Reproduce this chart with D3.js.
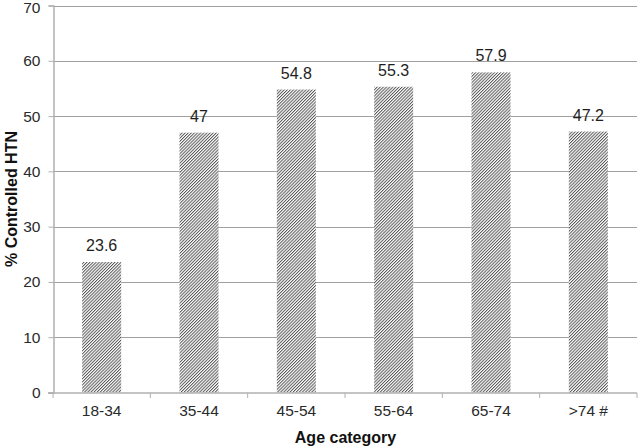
<!DOCTYPE html>
<html><head><meta charset="utf-8">
<script src="https://cdn.jsdelivr.net/npm/d3@7"></script>
<style>body{margin:0;background:#fff}svg{display:block}</style>
</head><body>
<svg id="c" width="640" height="448"></svg>
<script>
const categories = ["18-34","35-44","45-54","55-64","65-74",">74 #"];
const values = [23.6, 47, 54.8, 55.3, 57.9, 47.2];
const valueLabels = ["23.6","47","54.8","55.3","57.9","47.2"];
const yTicks = [0,10,20,30,40,50,60,70];

(function(){
const svg = d3.select("#c");
const mL = 53, mR = 637, mT = 5.5, mB = 392.5;
const x = d3.scaleBand().domain(categories).range([mL, mR]).paddingInner(0).paddingOuter(0);
const y = d3.scaleLinear().domain([0,70]).range([mB, mT]);
const font = "Liberation Sans, Arial, sans-serif";

const defs = svg.append("defs");
const pat = defs.append("pattern").attr("id","hatch").attr("patternUnits","userSpaceOnUse")
  .attr("width",2.2).attr("height",2.2).attr("patternTransform","rotate(45)");
pat.append("rect").attr("width",2.2).attr("height",2.2).attr("fill","#ffffff");
pat.append("line").attr("x1",0.5).attr("y1",0).attr("x2",0.5).attr("y2",2.2)
  .attr("stroke","#505050").attr("stroke-width",0.95);

// gridlines
svg.append("g").selectAll("line").data(yTicks.filter(d=>d>0)).join("line")
  .attr("x1",mL).attr("x2",mR)
  .attr("y1",d=>Math.round(y(d))+0.5).attr("y2",d=>Math.round(y(d))+0.5)
  .attr("stroke","#a0a0a0").attr("stroke-width",1);

// y axis
const ya = svg.append("g").attr("transform",`translate(${mL+0.5},0)`)
  .call(d3.axisLeft(y).tickValues(yTicks).tickSize(5).tickPadding(8).tickFormat(d3.format("d")));
ya.select(".domain").attr("stroke","#b0b0b0").attr("stroke-width",1.5);
ya.selectAll(".tick line").attr("stroke","#b0b0b0");
ya.selectAll(".tick text").attr("font-family",font).attr("font-size",15.5).attr("fill","#2a2a2a")
  .attr("dy",d=>d===70?"0.42em":"0.32em");

// bars
const bw = 39;
svg.append("g").selectAll("rect").data(values).join("rect")
  .attr("x",(d,i)=>x(categories[i])+x.bandwidth()/2-bw/2)
  .attr("width",bw)
  .attr("y",d=>y(d))
  .attr("height",d=>y(0)-y(d))
  .attr("fill","url(#hatch)");

// x axis
const xa = svg.append("g").attr("transform",`translate(0,${mB+0.5})`)
  .call(d3.axisBottom(x).tickSize(0).tickPadding(12));
xa.select(".domain").remove();
xa.append("line").attr("x1",mL-5).attr("x2",mR).attr("y1",0).attr("y2",0).attr("stroke","#b0b0b0").attr("stroke-width",1.5);
const bounds = categories.map(c=>x(c)).concat([mR]);
xa.selectAll(".sep").data(bounds).join("line").attr("class","sep")
  .attr("x1",d=>d).attr("x2",d=>d).attr("y1",0).attr("y2",5).attr("stroke","#b0b0b0");
xa.selectAll(".tick text").attr("font-family",font).attr("font-size",15.5).attr("fill","#2a2a2a");

// value labels
svg.append("g").selectAll("text").data(values).join("text")
  .attr("x",(d,i)=>x(categories[i])+x.bandwidth()/2)
  .attr("y",d=>y(d)-11)
  .attr("text-anchor","middle")
  .attr("font-family",font).attr("font-size",16).attr("fill","#1e1e1e")
  .text((d,i)=>valueLabels[i]);

// axis titles
svg.append("text").attr("x",345.5).attr("y",443).attr("text-anchor","middle")
  .attr("font-family",font).attr("font-size",16).attr("font-weight","bold").attr("fill","#111")
  .text("Age category");
svg.append("text").attr("transform","translate(17,199) rotate(-90)").attr("text-anchor","middle")
  .attr("font-family",font).attr("font-size",16).attr("font-weight","bold").attr("fill","#111")
  .text("% Controlled HTN");
})();
</script>
</body></html>
